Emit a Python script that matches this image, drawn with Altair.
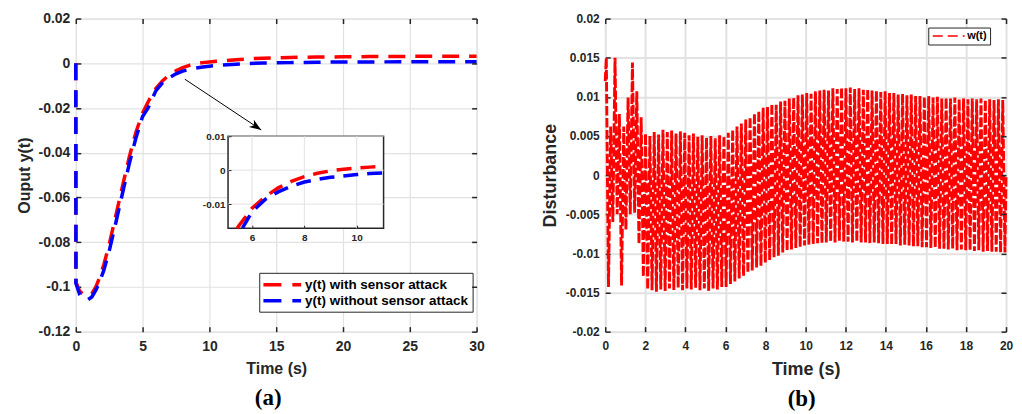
import altair as alt
import pandas as pd

FONT = "Liberation Sans"
SERIF = "Liberation Serif"
INK = "#262626"
GRID = "#e2e2e2"
LABEL_EXPR = "datum.value + ''"

# ---------------- panel (a): output y(t) ----------------
t_a = [0, 0.01, 0.3, 0.6, 0.9, 1.2, 1.5, 1.8, 2.1, 2.5,
       3.0, 3.5, 4.0, 4.5, 5.0, 5.43, 5.5, 5.63, 6.0, 6.5,
       7.0, 7.5, 8.0, 8.5, 9.0, 9.5, 10.0, 10.5, 11.0, 12,
       13, 14, 16, 18, 20, 22, 25, 30]
y_with_attack = [0, -0.0980, -0.1020, -0.1036, -0.1040, -0.1030, -0.1000, -0.0955, -0.0900, -0.0810,
                 -0.0680, -0.0548, -0.0420, -0.0308, -0.0222, -0.0171, -0.0163, -0.0150, -0.0112, -0.0078,
                 -0.0052, -0.0033, -0.0019, -0.0009, -0.0002, 0.0003, 0.0006, 0.0009, 0.0011, 0.0016,
                 0.0020, 0.0023, 0.0026, 0.0028, 0.0029, 0.0030, 0.0031, 0.0031]
y_without_attack = [0, -0.0985, -0.1035, -0.1053, -0.1057, -0.1045, -0.1015, -0.0975, -0.0925, -0.0840,
                    -0.0712, -0.0580, -0.0450, -0.0334, -0.0238, -0.0197, -0.0188, -0.0171, -0.0122, -0.0086,
                    -0.0064, -0.0047, -0.0035, -0.0027, -0.0021, -0.0017, -0.0013, -0.0010, -0.0008, -0.0004,
                    -0.0001, 0.0001, 0.0003, 0.0005, 0.0006, 0.0006, 0.0007, 0.0007]
series_names = ["y(t) with sensor attack", "y(t) without sensor attack"]
series_colors = ["#ff0000", "#0000ff"]

x_ticks_a = [0, 5, 10, 15, 20, 25, 30]
y_ticks_a = [0.02, 0, -0.02, -0.04, -0.06, -0.08, -0.1, -0.12]

inset_x_domain = [5.08, 11.03]
inset_y_domain = [-0.0171, 0.01]
inset_x_ticks = [6, 8, 10]
inset_y_ticks = [0.01, 0, -0.01]

arrow_from = [8.16, -0.0071]
arrow_to = [13.88, -0.0298]

# ---------------- panel (b): disturbance w(t) ----------------
w_start = 0.012
w_end = 0.0
w_peaks = [0.0150, 0.0062, 0.0150, 0.0078, 0.0062, 0.0099, 0.0144, 0.0107, 0.0074, 0.0053,
           0.0050, 0.0055, 0.0052, 0.0058, 0.0055, 0.0057, 0.0053, 0.0056, 0.0054, 0.0051,
           0.0053, 0.0049, 0.0051, 0.0048, 0.0050, 0.0047, 0.0051, 0.0050, 0.0054, 0.0058,
           0.0062, 0.0066, 0.0071, 0.0074, 0.0079, 0.0082, 0.0086, 0.0087, 0.0091, 0.0090,
           0.0094, 0.0095, 0.0098, 0.0099, 0.0102, 0.0103, 0.0105, 0.0104, 0.0107, 0.0108,
           0.0109, 0.0108, 0.0111, 0.0110, 0.0112, 0.0111, 0.0112, 0.0110, 0.0111, 0.0109,
           0.0110, 0.0108, 0.0108, 0.0106, 0.0107, 0.0105, 0.0105, 0.0103, 0.0104, 0.0102,
           0.0103, 0.0101, 0.0101, 0.0100, 0.0101, 0.0099, 0.0100, 0.0098, 0.0099, 0.0098,
           0.0099, 0.0097, 0.0098, 0.0097, 0.0098, 0.0097, 0.0098, 0.0096, 0.0097, 0.0096,
           0.0097, 0.0096]
w_troughs = [-0.0143, -0.0060, -0.0050, -0.0141, -0.0070, -0.0050, -0.0048, -0.0088, -0.0130, -0.0146,
             -0.0147, -0.0149, -0.0146, -0.0148, -0.0145, -0.0147, -0.0144, -0.0147, -0.0145, -0.0146,
             -0.0144, -0.0147, -0.0145, -0.0148, -0.0145, -0.0146, -0.0143, -0.0143, -0.0139, -0.0136,
             -0.0132, -0.0129, -0.0125, -0.0122, -0.0118, -0.0116, -0.0112, -0.0109, -0.0105, -0.0103,
             -0.0099, -0.0097, -0.0095, -0.0093, -0.0092, -0.0090, -0.0089, -0.0088, -0.0087, -0.0087,
             -0.0086, -0.0085, -0.0086, -0.0084, -0.0085, -0.0085, -0.0086, -0.0085, -0.0086, -0.0086,
             -0.0087, -0.0086, -0.0087, -0.0088, -0.0088, -0.0089, -0.0088, -0.0090, -0.0089, -0.0090,
             -0.0091, -0.0091, -0.0092, -0.0092, -0.0093, -0.0093, -0.0094, -0.0094, -0.0095, -0.0094,
             -0.0096, -0.0095, -0.0096, -0.0096, -0.0097, -0.0096, -0.0098, -0.0097, -0.0098, -0.0098,
             -0.0099, -0.0099]
w_duration = 20.0
x_ticks_b = [0, 2, 4, 6, 8, 10, 12, 14, 16, 18, 20]
y_ticks_b = [0.02, 0.015, 0.01, 0.005, 0, -0.005, -0.01, -0.015, -0.02]

# ---------------- tables ----------------
df_a = pd.DataFrame({
    "t": t_a + t_a,
    "y": y_with_attack + y_without_attack,
    "series": [series_names[0]] * len(t_a) + [series_names[1]] * len(t_a),
})
df_arrow = pd.DataFrame({"t": [arrow_from[0]], "y": [arrow_from[1]],
                         "t2": [arrow_to[0]], "y2": [arrow_to[1]]})

period = w_duration / len(w_peaks)
t_b, w_b = [0.0], [w_start]
for k, (hi, lo) in enumerate(zip(w_peaks, w_troughs)):
    t_b += [(k + 0.25) * period, (k + 0.75) * period]
    w_b += [hi, lo]
t_b.append(w_duration)
w_b.append(w_end)
df_b = pd.DataFrame({"t": t_b, "w": w_b, "series": ["w(t)"] * len(t_b)})


def main_axis(orient, values, title, label_size, title_size, grid_width, show=True,
              label_pad=6, title_pad=6):
    kw = dict(orient=orient, values=values, offset=-5, tickSize=5, tickWidth=1.5,
              tickColor=INK, domain=False)
    if show:
        kw.update(title=title, grid=True, gridColor=GRID, gridWidth=grid_width, zindex=0,
                  labelExpr=LABEL_EXPR, labelFont=FONT, labelFontSize=label_size,
                  labelFontWeight="bold", labelColor=INK, labelPadding=label_pad,
                  labelFlush=False, labelOverlap=False,
                  titleFont=FONT, titleFontSize=title_size, titleFontWeight="bold",
                  titleColor=INK, titlePadding=title_pad)
    else:
        kw.update(title=None, grid=False, labels=False, zindex=1)
    return alt.Axis(**kw)


# ---------------- panel (a) chart ----------------
xs_a = alt.Scale(domain=[0, 30], nice=False, zero=False)
ys_a = alt.Scale(domain=[-0.12, 0.02], nice=False, zero=False)
color_a = alt.Color(
    "series:N",
    scale=alt.Scale(domain=series_names, range=series_colors),
    legend=alt.Legend(
        title=None, orient="none", legendX=184, legendY=255,
        symbolType="M-1.3,0H5", symbolStrokeWidth=3.5, symbolDash=[18, 11], symbolSize=144,
        labelFont=FONT, labelFontSize=13.5, labelFontWeight="bold", labelColor="black",
        labelLimit=400, labelOffset=26, padding=4, rowPadding=1,
        fillColor="white", strokeColor=INK,
    ),
)

main_lines = alt.Chart(df_a).mark_line(strokeWidth=3.5, strokeDash=[17, 10]).encode(
    x=alt.X("t:Q", scale=xs_a, axis=main_axis("bottom", x_ticks_a, "Time (s)", 14, 16, 1.2,
                                              label_pad=8, title_pad=7)),
    y=alt.Y("y:Q", scale=ys_a, axis=main_axis("left", y_ticks_a, "Ouput y(t)", 14, 16, 1.2)),
    color=color_a,
)
main_frame = alt.Chart(df_a).mark_line(opacity=0).encode(
    x=alt.X("t:Q", axis=main_axis("top", x_ticks_a, None, 14, 16, 1.2, show=False)),
    y=alt.Y("y:Q", axis=main_axis("right", y_ticks_a, None, 14, 16, 1.2, show=False)),
    detail="series:N",
)
arrow_line = alt.Chart(df_arrow).mark_rule(color="black", strokeWidth=1).encode(
    x=alt.X("t:Q", axis=None), y=alt.Y("y:Q", axis=None), x2="t2:Q", y2="y2:Q")
arrow_head = alt.Chart(df_arrow).mark_point(
    shape="M0,0L-2,-0.75L-1.45,0L-2,0.75Z", filled=True, color="black", opacity=1,
    size=140, angle=33.6).encode(x=alt.X("t2:Q", axis=None), y=alt.Y("y2:Q", axis=None))

main_group = alt.layer(main_lines, main_frame, arrow_line, arrow_head).resolve_axis(
    x="independent", y="independent")

# inset
ix = alt.Scale(domain=inset_x_domain, range=[152.7, 308.7], nice=False, zero=False)
iy = alt.Scale(domain=inset_y_domain, range=[210.3, 118.0], nice=False, zero=False)
inset_axis_common = dict(tickSize=3, tickWidth=1, tickColor=INK, domain=False, grid=False,
                         title=None, zindex=1, labelExpr=LABEL_EXPR, labelFont=FONT,
                         labelFontSize=10, labelFontWeight="bold", labelColor=INK,
                         labelFlush=False, labelOverlap=False)
df_box = pd.DataFrame({"x1": [inset_x_domain[0]], "x2": [inset_x_domain[1]],
                       "y1": [inset_y_domain[0]], "y2": [inset_y_domain[1]]})
inset_box = alt.Chart(df_box).mark_rect(fill="white", stroke=INK, strokeWidth=1.5).encode(
    x=alt.X("x1:Q", scale=ix, axis=None), x2="x2:Q",
    y=alt.Y("y1:Q", scale=iy, axis=None), y2="y2:Q",
)
df_vgrid = pd.DataFrame({"x": inset_x_ticks, "y1": [inset_y_domain[0]] * len(inset_x_ticks),
                         "y2": [inset_y_domain[1]] * len(inset_x_ticks)})
df_hgrid = pd.DataFrame({"y": inset_y_ticks, "x1": [inset_x_domain[0]] * len(inset_y_ticks),
                         "x2": [inset_x_domain[1]] * len(inset_y_ticks)})
inset_vgrid = alt.Chart(df_vgrid).mark_rule(color=GRID, strokeWidth=1).encode(
    x=alt.X("x:Q", scale=ix, axis=None), y=alt.Y("y1:Q", scale=iy, axis=None), y2="y2:Q")
inset_hgrid = alt.Chart(df_hgrid).mark_rule(color=GRID, strokeWidth=1).encode(
    y=alt.Y("y:Q", scale=iy, axis=None), x=alt.X("x1:Q", scale=ix, axis=None), x2="x2:Q")
inset_lines = alt.Chart(df_a).transform_filter(
    f"datum.t >= {inset_x_domain[0]} && datum.t <= {inset_x_domain[1]} && datum.y >= {inset_y_domain[0] - 0.00001}"
).mark_line(strokeWidth=3.5, strokeDash=[15, 9]).encode(
    x=alt.X("t:Q", scale=ix, axis=alt.Axis(orient="bottom", values=inset_x_ticks, offset=-106.7,
                                          labelPadding=4, **inset_axis_common)),
    y=alt.Y("y:Q", scale=iy, axis=alt.Axis(orient="left", values=inset_y_ticks, offset=-155.7,
                                          labelPadding=3, **inset_axis_common)),
    color=alt.Color("series:N", legend=None),
)
inset_group = alt.layer(inset_box, inset_vgrid, inset_hgrid, inset_lines).resolve_axis(
    x="independent", y="independent")

panel_a = alt.layer(main_group, inset_group).resolve_scale(
    x="independent", y="independent").properties(
    width=402, height=314,
    title=alt.TitleParams("(a)", orient="bottom", anchor="middle", frame="group",
                          font=SERIF, fontSize=23, fontWeight="bold", color="black",
                          offset=11, dx=-8),
)

# ---------------- panel (b) chart ----------------
xs_b = alt.Scale(domain=[0, 20], nice=False, zero=False)
ys_b = alt.Scale(domain=[-0.02, 0.02], nice=False, zero=False)
w_line = alt.Chart(df_b).mark_line(strokeWidth=2.9, strokeDash=[9.5, 2.5]).encode(
    x=alt.X("t:Q", scale=xs_b, axis=main_axis("bottom", x_ticks_b, "Time (s)", 12, 18, 2,
                                              label_pad=9, title_pad=9)),
    y=alt.Y("w:Q", scale=ys_b, axis=main_axis("left", y_ticks_b, "Disturbance", 12, 18, 2)),
    color=alt.Color("series:N", scale=alt.Scale(domain=["w(t)"], range=["#ff0000"]),
                    legend=alt.Legend(title=None, orient="none", legendX=324, legendY=9,
                                      symbolType="M-1,0H7", symbolStrokeWidth=1.3,
                                      symbolDash=[10, 5], symbolSize=64,
                                      labelFont=FONT, labelFontSize=11, labelFontWeight="bold",
                                      labelColor="black", labelOffset=25, padding=3,
                                      fillColor="white", strokeColor=INK)),
    order="t:Q",
)
w_frame = alt.Chart(df_b).mark_line(opacity=0).encode(
    x=alt.X("t:Q", axis=main_axis("top", x_ticks_b, None, 12, 18, 2, show=False)),
    y=alt.Y("w:Q", axis=main_axis("right", y_ticks_b, None, 12, 18, 2, show=False)),
)
panel_b = alt.layer(w_line, w_frame).resolve_axis(x="independent", y="independent").properties(
    width=402, height=314,
    title=alt.TitleParams("(b)", orient="bottom", anchor="middle", frame="group",
                          font=SERIF, fontSize=23, fontWeight="bold", color="black",
                          offset=10, dx=-4),
)

chart = alt.hconcat(panel_a, panel_b, spacing=55).resolve_scale(color="independent").properties(
    padding={"left": 7, "top": 2, "right": 0, "bottom": 0},
).configure_view(stroke=INK, strokeWidth=2.5).configure_legend(
    strokeWidth=2
).configure(background="white")

chart.save("out.html", embed_options={"renderer": "svg", "actions": False})
